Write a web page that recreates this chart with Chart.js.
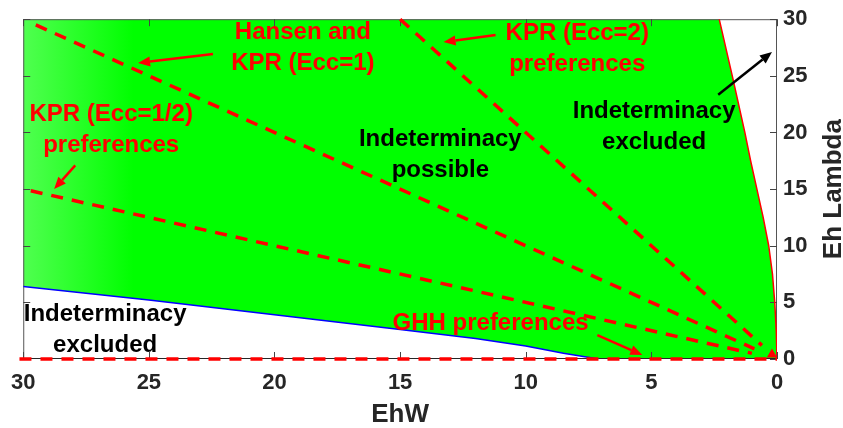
<!DOCTYPE html>
<html>
<head>
<meta charset="utf-8">
<script src="https://cdn.jsdelivr.net/npm/chart.js@4.4.1/dist/chart.umd.min.js"></script>
<style>
  html, body { margin: 0; padding: 0; background: #fff; }
  #wrap { width: 843px; height: 428px; }
</style>
</head>
<body>
<div id="wrap"><canvas id="chart"></canvas></div>
<script>
// lower edge of the indeterminacy region (blue curve)
const lowerEhW    = [30, 25, 20, 15, 12, 10, 8.5, 7.1]
const lowerLambda = [6.4, 5.2, 3.9, 2.6, 1.8, 1.15, 0.5, 0]
// upper edge of the region (red curve)
const upperEhW    = [0, 0.03, 0.09, 0.18, 0.33, 0.55, 0.8, 1.05, 1.28, 1.78, 2.3]
const upperLambda = [0, 2.5, 5, 7.5, 10, 12.5, 15, 17.5, 20, 25, 30]

// preference rays (dashed)
const ghhEhW     = [30.15, 0]
const ghhLambda  = [0, 0]
const halfEhW    = [29.7, 1.0]
const halfLambda = [14.85, 0.5]
const oneEhW     = [29.5, 0.9]
const oneLambda  = [29.5, 0.9]
const twoEhW     = [15, 0.6]
const twoLambda  = [30, 1.2]

// little red marker at the origin
const markEhW    = [0.2]
const markLambda = [0.4]

const axisMin = 0
const axisMax = 30
const tickStep = 5
const yTitle = 'Eh Lambda'

// text labels and arrows, in data units
const notes = [
  { lines: ['Hansen and', 'KPR (Ecc=1)'], x: 18.87, y: 27.5, color: '#ff0000' },
  { lines: ['KPR (Ecc=1/2)', 'preferences'], x: 26.5, y: 20.2, color: '#ff0000' },
  { lines: ['KPR (Ecc=2)', 'preferences'], x: 7.95, y: 27.4, color: '#ff0000' },
  { lines: ['Indeterminacy', 'possible'], x: 13.4, y: 18.0, color: '#000000' },
  { lines: ['Indeterminacy', 'excluded'], x: 4.89, y: 20.5, color: '#000000' },
  { lines: ['Indeterminacy', 'excluded'], x: 26.74, y: 2.54, color: '#000000' },
  { lines: ['GHH preferences'], x: 11.4, y: 3.16, color: '#ff0000' }
]
const arrows = [
  { from: [22.45, 26.93], to: [25.43, 26.14], color: '#ff0000' },
  { from: [27.93, 17.1], to: [28.77, 15.0], color: '#ff0000' },
  { from: [11.2, 28.6], to: [13.27, 27.98], color: '#ff0000' },
  { from: [2.34, 23.33], to: [0.2, 27.1], color: '#000000' },
  { from: [7.15, 2.1], to: [5.36, 0.35], color: '#ff0000' }
]

const pts = (xs, ys) => xs.map((v, i) => ({ x: v, y: ys[i] }))

// closed outline of the green region
const region = [
  ...pts(lowerEhW, lowerLambda),
  { x: 0, y: 0 },
  ...pts(upperEhW, upperLambda),
  { x: axisMax, y: axisMax }
]

const FONT = '"Liberation Sans", Arial, Helvetica, sans-serif'

function greenFill(context) {
  const area = context.chart.chartArea
  if (!area) return '#00ff00'
  const g = context.chart.ctx.createLinearGradient(area.left, 0, area.left + 110, 0)
  g.addColorStop(0, '#50ff50')
  g.addColorStop(1, '#00ff00')
  return g
}

// box and inward tick marks, drawn right after the green patch
const frame = {
  id: 'frame',
  afterDatasetDraw(chart, args) {
    if (args.index !== 0) return
    const { ctx, chartArea: a, scales: { x, y } } = chart
    const len = 7
    ctx.save()
    ctx.lineWidth = 1
    ctx.strokeStyle = '#555'
    ctx.beginPath()
    ctx.moveTo(a.left + 0.5, a.bottom)
    ctx.lineTo(a.left + 0.5, a.top + 0.5)
    ctx.lineTo(a.right - 0.5, a.top + 0.5)
    ctx.lineTo(a.right - 0.5, a.bottom)
    ctx.stroke()
    ctx.strokeStyle = '#262626'
    ctx.beginPath()
    ctx.moveTo(a.left, a.bottom - 0.5)
    ctx.lineTo(a.right, a.bottom - 0.5)
    ctx.stroke()
    ctx.strokeStyle = '#444'
    ctx.beginPath()
    x.ticks.forEach(t => {
      const px = Math.round(x.getPixelForValue(t.value)) + 0.5
      ctx.moveTo(px, a.bottom); ctx.lineTo(px, a.bottom - len)
      ctx.moveTo(px, a.top); ctx.lineTo(px, a.top + len)
    })
    y.ticks.forEach(t => {
      const py = Math.round(y.getPixelForValue(t.value)) + 0.5
      ctx.moveTo(a.right, py); ctx.lineTo(a.right - len, py)
      ctx.moveTo(a.left, py); ctx.lineTo(a.left + len, py)
    })
    ctx.stroke()
    ctx.restore()
  }
}

const labels = {
  id: 'labels',
  afterDraw(chart) {
    const { ctx, chartArea: a, scales: { x, y } } = chart
    ctx.save()
    arrows.forEach(ar => {
      const x0 = x.getPixelForValue(ar.from[0]), y0 = y.getPixelForValue(ar.from[1])
      const x1 = x.getPixelForValue(ar.to[0]), y1 = y.getPixelForValue(ar.to[1])
      const ang = Math.atan2(y1 - y0, x1 - x0)
      const hl = 12, hw = 5
      const bx = x1 - hl * Math.cos(ang), by = y1 - hl * Math.sin(ang)
      ctx.strokeStyle = ar.color
      ctx.fillStyle = ar.color
      ctx.lineWidth = 2.5
      ctx.beginPath()
      ctx.moveTo(x0, y0)
      ctx.lineTo(bx, by)
      ctx.stroke()
      ctx.beginPath()
      ctx.moveTo(x1, y1)
      ctx.lineTo(bx + hw * Math.sin(ang), by - hw * Math.cos(ang))
      ctx.lineTo(bx - hw * Math.sin(ang), by + hw * Math.cos(ang))
      ctx.closePath()
      ctx.fill()
    })
    ctx.font = 'bold 24px ' + FONT
    ctx.textAlign = 'center'
    ctx.textBaseline = 'middle'
    notes.forEach(n => {
      const cx = x.getPixelForValue(n.x), cy = y.getPixelForValue(n.y)
      const lh = 31
      const top = cy - (n.lines.length - 1) * lh / 2
      ctx.fillStyle = n.color
      n.lines.forEach((s, i) => ctx.fillText(s, cx, top + i * lh))
    })

    // y title reads bottom to top on the right side
    ctx.translate(y.right - 11, (a.top + a.bottom) / 2)
    ctx.rotate(-Math.PI / 2)
    ctx.font = 'bold 26px ' + FONT
    ctx.fillStyle = '#262626'
    ctx.textBaseline = 'alphabetic'
    ctx.fillText(yTitle, 0, 9)
    ctx.restore()
  }
}

const dashed = (data, order) => ({
  data,
  borderColor: '#ff0000',
  borderWidth: 3.5,
  borderDash: [12, 9],
  pointRadius: 0,
  fill: false,
  clip: false,
  order
})

new Chart(document.getElementById('chart'), {
  type: 'line',
  data: {
    datasets: [
      {
        data: region,
        backgroundColor: greenFill,
        borderWidth: 0,
        borderColor: 'rgba(0,0,0,0)',
        pointRadius: 0,
        fill: 'shape',
        order: 10
      },
      { data: pts(lowerEhW, lowerLambda), borderColor: '#0000ff', borderWidth: 1.5, pointRadius: 0, fill: false, order: 5 },
      { data: pts(upperEhW, upperLambda), borderColor: '#ff0000', borderWidth: 1.5, pointRadius: 0, fill: false, order: 5 },
      dashed(pts(ghhEhW, ghhLambda), 2),
      dashed(pts(halfEhW, halfLambda), 2),
      dashed(pts(oneEhW, oneLambda), 2),
      dashed(pts(twoEhW, twoLambda), 2),
      {
        data: pts(markEhW, markLambda),
        showLine: false,
        pointStyle: 'triangle',
        pointRadius: 6,
        backgroundColor: '#ff0000',
        borderColor: '#ff0000',
        borderWidth: 0,
        clip: false,
        order: 1
      }
    ]
  },
  options: {
    responsive: true,
    maintainAspectRatio: false,
    animation: false,
    layout: { padding: { left: 22, top: 17, right: 0, bottom: 0 } },
    elements: { line: { tension: 0 } },
    plugins: { legend: { display: false }, tooltip: { enabled: false } },
    scales: {
      x: {
        type: 'linear',
        reverse: true,
        min: axisMin,
        max: axisMax,
        grid: { display: false, drawTicks: false },
        border: { display: false },
        ticks: { stepSize: tickStep, color: '#262626', padding: 11, font: { family: FONT, size: 22, weight: 'bold' } },
        title: { display: true, text: 'EhW', color: '#262626', padding: { top: 0, bottom: -2 }, font: { family: FONT, size: 26, weight: 'bold' } },
        afterFit: s => { s.height = 69 }
      },
      y: {
        type: 'linear',
        position: 'right',
        min: axisMin,
        max: axisMax,
        grid: { display: false, drawTicks: false },
        border: { display: false },
        ticks: { stepSize: tickStep, color: '#262626', padding: 6, font: { family: FONT, size: 22, weight: 'bold' } },
        title: { display: false },
        afterFit: s => { s.width = 66 }
      }
    }
  },
  plugins: [frame, labels]
})
</script>
</body>
</html>
